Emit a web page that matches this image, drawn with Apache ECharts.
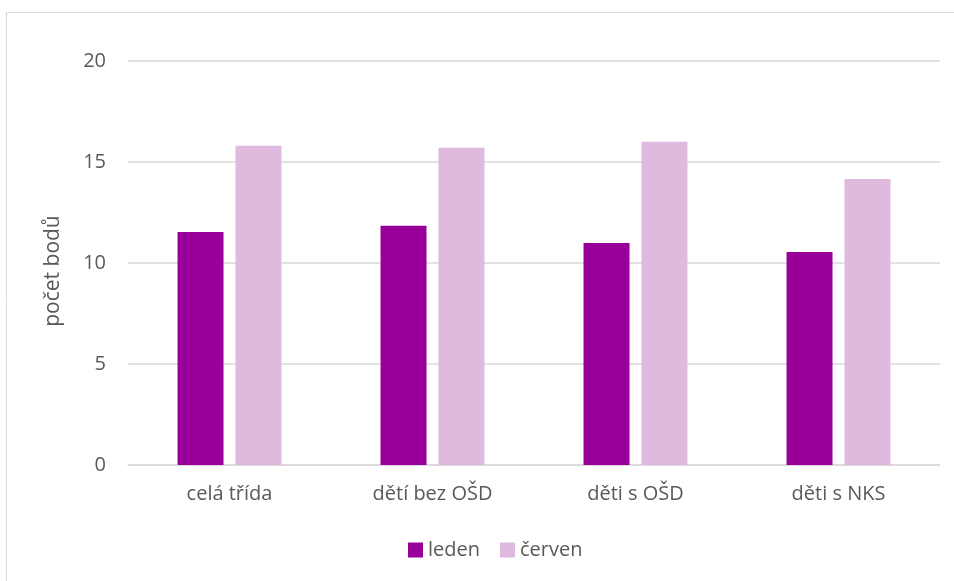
<!DOCTYPE html>
<html><head><meta charset="utf-8">
<script src="https://cdn.jsdelivr.net/npm/echarts@6/dist/echarts.min.js"></script>
<style>html,body{margin:0;padding:0;background:#fff}#c{width:954px;height:581px}</style>
</head><body><div id="c"></div>
<script>
const categories = ['celá třída', 'dětí bez OŠD', 'děti s OŠD', 'děti s NKS'];
const leden = [11.53, 11.84, 10.99, 10.54];
const cerven = [15.81, 15.71, 16.0, 14.16];
const seriesNames = ['leden', 'červen'];
const yTicks = [0, 5, 10, 15, 20];
const yTitle = 'počet bodů';

const FONT = '"Open Sans", sans-serif';
const chart = echarts.init(document.getElementById('c'), null, {renderer: 'canvas'});
chart.setOption({
  animation: false,
  backgroundColor: '#fff',
  textStyle: {fontFamily: FONT},
  graphic: [{
    type: 'rect', z: -1, silent: true,
    shape: {x: 6.5, y: 12.5, width: 1200, height: 1200},
    style: {fill: 'none', stroke: '#d9d9d9', lineWidth: 1}
  }, {
    type: 'text', silent: true, x: 53, y: 271, rotation: Math.PI / 2,
    style: {text: yTitle, fontSize: 21, fontFamily: FONT, fill: '#595959',
            align: 'center', verticalAlign: 'middle'}
  }],
  grid: {left: 128, right: 14, top: 61, bottom: 116, containLabel: false},
  legend: {
    data: seriesNames, left: 403, top: 535,
    itemWidth: 15, itemHeight: 15, itemGap: 20, icon: 'rect',
    textStyle: {fontSize: 20, color: '#595959', fontFamily: FONT}
  },
  xAxis: {
    type: 'category', data: categories,
    axisLine: {lineStyle: {color: '#d9d9d9', width: 1.5}},
    axisTick: {show: false},
    axisLabel: {fontSize: 20, color: '#595959', margin: 19, fontFamily: FONT}
  },
  yAxis: {
    type: 'value', min: yTicks[0], max: yTicks[yTicks.length - 1], interval: 5,
    axisLine: {show: false}, axisTick: {show: false},
    axisLabel: {fontSize: 20, color: '#595959', margin: 22, fontFamily: FONT},
    splitLine: {lineStyle: {color: '#d9d9d9', width: 1.5}}
  },
  series: [
    {name: seriesNames[0], type: 'bar', data: leden, barWidth: 46, barGap: '26%',
     itemStyle: {color: '#990099'}},
    {name: seriesNames[1], type: 'bar', data: cerven, barWidth: 46,
     itemStyle: {color: '#dfb9de'}}
  ]
});
</script></body></html>
